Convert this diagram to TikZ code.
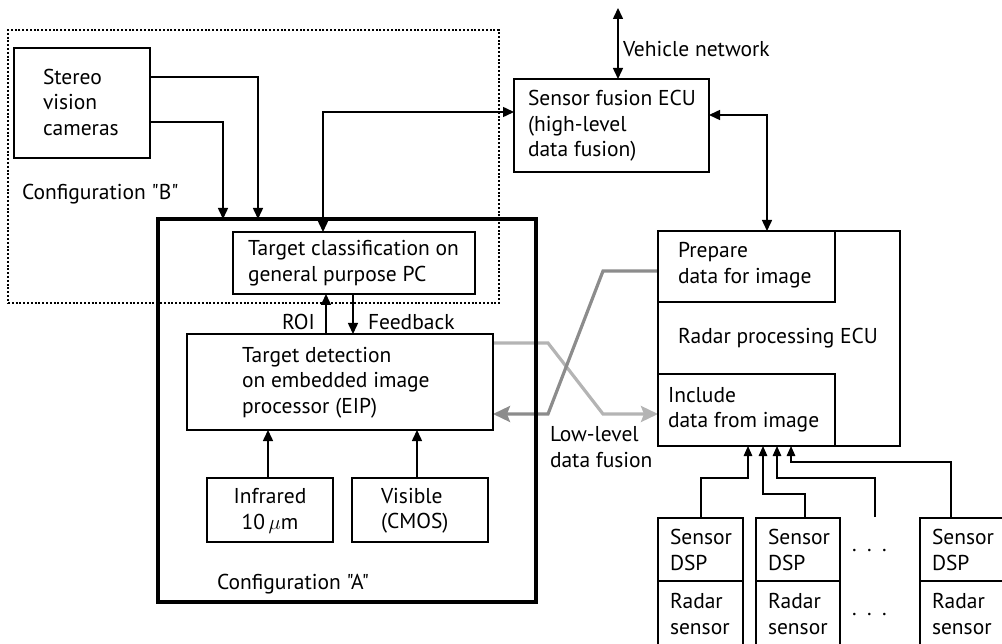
\documentclass[tikz,border=0pt]{standalone}
\usepackage{fontspec}
\setmainfont{PT Sans}[Ligatures=TeXOff]
\usetikzlibrary{arrows.meta}
\pgfdeclarelayer{bg}
\pgfsetlayers{bg,main}
\definecolor{lgrey}{HTML}{B4B4B4}
\definecolor{dgrey}{HTML}{8C8C8C}
\begin{document}
\begin{tikzpicture}[x=1pt,y=-1pt,
  box/.style={draw, line width=1.5pt, rectangle, anchor=north west, inner sep=0pt, outer sep=0pt},
  txt/.style={inner sep=0pt, outer sep=0pt, align=left, font=\fontsize{21.5}{25.5}\selectfont},
  arr/.style={-{Triangle[length=11pt,width=10pt]}, line width=1.5pt},
  arrs/.style={-{Triangle[length=10pt,width=8.5pt]}, line width=1.5pt},
  dbl/.style={{Triangle[length=11pt,width=10pt]}-{Triangle[length=11pt,width=10pt]}, line width=1.5pt},
  lg/.style={draw=lgrey, line width=3.2pt, -{Stealth[length=17pt,width=16pt,inset=3pt]}},
  dg/.style={draw=dgrey, line width=3.2pt, -{Stealth[length=17pt,width=16pt,inset=3pt]}}]
\useasboundingbox (0,0) rectangle (1002,644);
\clip (0,0) rectangle (1002,644);

% configuration B (dotted)
\node[box, draw, line width=2.3pt, dash pattern=on 2pt off 1.8pt, minimum width=491pt, minimum height=273pt] (cfgB) at (8,30) {};
% configuration A (thick)
\node[box, line width=3.5pt, minimum width=378pt, minimum height=383pt] (cfgA) at (158,219) {};

% boxes
\node[box, minimum width=136pt, minimum height=110pt] (stereo) at (14,48) {};
\node[box, minimum width=195pt, minimum height=93pt] (fusion) at (514,79) {};
\node[box, minimum width=242pt, minimum height=62pt] (cls) at (233,232) {};
\node[box, minimum width=306pt, minimum height=96pt] (det) at (187,334) {};
\node[box, minimum width=126pt, minimum height=64pt] (ir) at (207,478) {};
\node[box, minimum width=136pt, minimum height=64pt] (vis) at (352,478) {};
\node[box, minimum width=242pt, minimum height=215pt] (radar) at (658,231) {};
\node[box, minimum width=177pt, minimum height=71pt] (prep) at (658,231) {};
\node[box, minimum width=177pt, minimum height=72pt] (inc) at (658,374) {};
\node[box, minimum width=85pt, minimum height=63pt] (s1) at (658,518) {};
\node[box, minimum width=85pt, minimum height=72pt] (r1) at (658,581) {};
\node[box, minimum width=84pt, minimum height=63pt] (s2) at (756,518) {};
\node[box, minimum width=84pt, minimum height=72pt] (r2) at (756,581) {};
\node[box, minimum width=90pt, minimum height=63pt] (s4) at (920,518) {};
\node[box, minimum width=90pt, minimum height=72pt] (r4) at (920,581) {};

% texts
\node[txt, anchor=west] (stereoT) at (43,102) {Stereo\\vision\\cameras};
\node[txt, anchor=base west] (cfgBT) at (22,200) {Configuration "B"};
\node[txt, anchor=base west] (cfgAT) at (217,589) {Configuration "A"};
\node[txt, anchor=west] (fusionT) at (528,126) {Sensor fusion ECU\\(high-level\\data fusion)};
\node[txt, anchor=base west] (vnT) at (623,57) {Vehicle network};
\node[txt, anchor=west] (clsT) at (248,263) {Target classification on\\general purpose PC};
\node[txt, anchor=base west] (roiT) at (282,330) {ROI};
\node[txt, anchor=base west] (fbT) at (368,330) {Feedback};
\node[txt, anchor=west] (detT) at (242,382.5) {Target detection\\on embedded image\\processor (EIP)};
\node[txt, anchor=center, align=center] (irT) at (270,511) {Infrared\\10\,$\mu$m};
\node[txt, anchor=west] (visT) at (381,511) {Visible\\(CMOS)};
\node[txt, anchor=west] (prepT) at (678,265) {Prepare\\data for image};
\node[txt, anchor=base west] (radarT) at (678,344) {Radar processing ECU};
\node[txt, anchor=west] (incT) at (668,410) {Include\\data from image};
\node[txt, anchor=west] (llT) at (550,447) {Low-level\\data fusion};
\node[txt, anchor=west] (s1T) at (670,550) {Sensor\\DSP};
\node[txt, anchor=west] (r1T) at (670,614) {Radar\\sensor};
\node[txt, anchor=west] (s2T) at (768,550) {Sensor\\DSP};
\node[txt, anchor=west] (r2T) at (768,614) {Radar\\sensor};
\node[txt, anchor=west] (s4T) at (932,550) {Sensor\\DSP};
\node[txt, anchor=west] (r4T) at (932,614) {Radar\\sensor};
\node[txt, anchor=base west] (dots1) at (852,551) {.\hspace{10.5pt}.\hspace{10.5pt}.};
\node[txt, anchor=base west] (dots2) at (852,615) {.\hspace{10.5pt}.\hspace{10.5pt}.};

% black connectors
\draw[arr] (stereo.east |- 0,77) -| (258,0 |- cfgA.north);
\draw[arr] (stereo.east |- 0,122) -| (223,0 |- cfgA.north);
\draw[dbl] (323,0 |- cls.north) |- (fusion.west |- 0,112);
\coordinate (vn) at (618,8);
\draw[dbl] (618,0 |- fusion.north) -- (vn);
\draw[dbl] (fusion.east |- 0,115) -| (767,0 |- radar.north);
\draw[arr] (326,0 |- det.north) -- (326,0 |- cls.south);
\draw[arr] (353,0 |- cls.south) -- (353,0 |- det.north);
\draw[arr] (268,0 |- ir.north) -- (268,0 |- det.south);
\draw[arr] (417,0 |- vis.north) -- (417,0 |- det.south);

\draw[arrs] (701,0 |- s1.north) |- (748,478) -- (748,0 |- inc.south);
\draw[arrs] (805,0 |- s2.north) |- (763,494) -- (763,0 |- inc.south);
\coordinate (d3) at (875,517);
\draw[arrs] (d3) |- (777,478) -- (777,0 |- inc.south);
\draw[arrs] (951,0 |- s4.north) |- (791,462) -- (791,0 |- inc.south);

% grey low-level fusion connectors
\begin{pgfonlayer}{bg}
\draw[lg] (det.east |- 0,343) -- (548,343) -- (603,414) -- (inc.west |- 0,414);
\draw[dg] (prep.west |- 0,271) -- (603,271) -- (548,414) -- (det.east |- 0,414);
\end{pgfonlayer}
\end{tikzpicture}
\end{document}
